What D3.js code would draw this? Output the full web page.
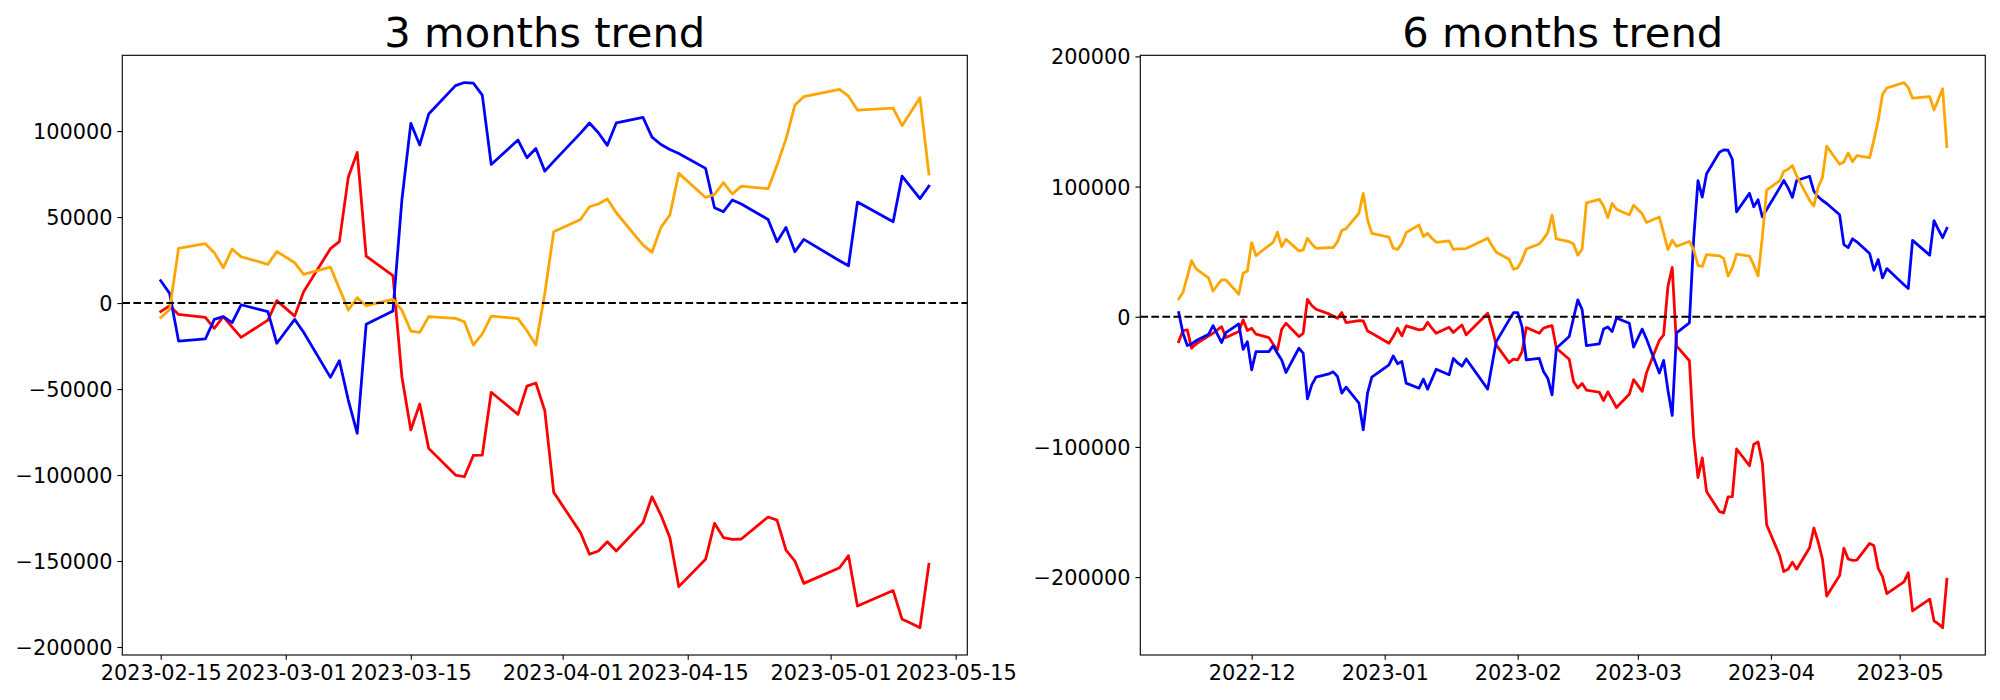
<!DOCTYPE html>
<html><head><meta charset="utf-8">
<script src="https://cdn.jsdelivr.net/npm/d3@7"></script>
<style>body{margin:0;background:#fff}svg{display:block}</style>
</head><body>
<svg id="c" width="2000" height="700"></svg>
<script>
// ---------------- data: 3 months ----------------
const dates3m = ["2023-02-15","2023-02-16","2023-02-17","2023-02-20","2023-02-21","2023-02-22","2023-02-23","2023-02-24","2023-02-27","2023-02-28",
"2023-03-02","2023-03-03","2023-03-06","2023-03-07","2023-03-08","2023-03-09","2023-03-10","2023-03-13","2023-03-14","2023-03-15","2023-03-16","2023-03-17","2023-03-20","2023-03-21","2023-03-22","2023-03-23","2023-03-24","2023-03-27","2023-03-28","2023-03-29","2023-03-30","2023-03-31",
"2023-04-03","2023-04-04","2023-04-05","2023-04-06","2023-04-07","2023-04-10","2023-04-11","2023-04-12","2023-04-13","2023-04-14","2023-04-17","2023-04-18","2023-04-19","2023-04-20","2023-04-21","2023-04-24","2023-04-25","2023-04-26","2023-04-27","2023-04-28",
"2023-05-02","2023-05-03","2023-05-04","2023-05-08","2023-05-09","2023-05-10","2023-05-11","2023-05-12"];
const blue3m = [13000,5600,-22100,-20900,-9500,-7900,-11400,-1000,-5000,-23400,
-9500,-17000,-43200,-33500,-56400,-75800,-12400,-4650,59900,104500,91900,109900,126400,128200,127900,120900,80600,94800,84500,89900,76700,82400,
98800,104700,99000,91700,104700,107900,96500,92200,89300,87000,78300,55400,53100,59900,57600,48600,35700,44000,29800,37000,
24600,21700,58700,47300,73800,67200,60700,68000];
const red3m = [-5000,-1550,-6600,-8300,-14700,-7950,-14000,-20000,-9900,1400,
-7600,6600,31600,35700,73100,87600,27300,15900,-42800,-73800,-58700,-84500,-100000,-101000,-88600,-88400,-51900,-64700,-48300,-46500,-62600,-110100,
-133500,-146100,-144200,-138800,-144200,-127700,-112600,-123300,-136400,-164900,-149000,-128100,-136400,-137400,-137200,-124400,-126200,-143600,-150000,-163000,
-153900,-146900,-176200,-167200,-183900,-186200,-188800,-151900];
const orange3m = [-8500,-3700,31800,34500,29300,20500,31400,26900,22500,30000,
23400,16700,20900,8500,-4100,3100,-1550,2100,-4100,-16300,-17100,-7900,-8900,-10900,-24400,-18000,-7600,-9100,-16100,-24400,5600,41500,
48600,56000,57600,60500,52500,33700,29500,44000,51200,75400,61400,63200,70000,63400,68000,66500,80200,95300,115100,120000,
124200,120300,112200,113400,103100,111200,119400,75000];

// ---------------- data: 6 months ----------------
const dates6m = ["2022-11-14","2022-11-15","2022-11-16","2022-11-17","2022-11-18","2022-11-21","2022-11-22","2022-11-23","2022-11-24","2022-11-25","2022-11-28","2022-11-29","2022-11-30",
"2022-12-01","2022-12-02","2022-12-05","2022-12-06","2022-12-07","2022-12-08","2022-12-09","2022-12-12","2022-12-13","2022-12-14","2022-12-15","2022-12-16","2022-12-19","2022-12-20","2022-12-21","2022-12-22","2022-12-23","2022-12-26","2022-12-27","2022-12-28","2022-12-29",
"2023-01-02","2023-01-03","2023-01-04","2023-01-05","2023-01-06","2023-01-09","2023-01-10","2023-01-11","2023-01-12","2023-01-13","2023-01-16","2023-01-17","2023-01-18","2023-01-19","2023-01-20","2023-01-25","2023-01-26","2023-01-27","2023-01-30","2023-01-31",
"2023-02-01","2023-02-02","2023-02-03","2023-02-06","2023-02-07","2023-02-08","2023-02-09","2023-02-10","2023-02-13","2023-02-14",
"2023-02-15","2023-02-16","2023-02-17","2023-02-20","2023-02-21","2023-02-22","2023-02-23","2023-02-24","2023-02-27","2023-02-28",
"2023-03-02","2023-03-03","2023-03-06","2023-03-07","2023-03-08","2023-03-09","2023-03-10","2023-03-13","2023-03-14","2023-03-15","2023-03-16","2023-03-17","2023-03-20","2023-03-21","2023-03-22","2023-03-23","2023-03-24","2023-03-27","2023-03-28","2023-03-29","2023-03-30","2023-03-31",
"2023-04-03","2023-04-04","2023-04-05","2023-04-06","2023-04-07","2023-04-10","2023-04-11","2023-04-12","2023-04-13","2023-04-14","2023-04-17","2023-04-18","2023-04-19","2023-04-20","2023-04-21","2023-04-24","2023-04-25","2023-04-26","2023-04-27","2023-04-28",
"2023-05-02","2023-05-03","2023-05-04","2023-05-08","2023-05-09","2023-05-10","2023-05-11","2023-05-12"];
const blue6m = [3200,-12700,-22100,-20900,-18500,-13400,-6800,-13400,-19800,-12200,-5500,-25000,-19100,
-40800,-26800,-26800,-22400,-28000,-33200,-42800,-24200,-28000,-63100,-52300,-46400,-43900,-42300,-45900,-58700,-54100,-66400,-86900,-58700,-46400,
-37000,-30100,-36200,-34400,-51000,-54900,-47900,-55600,-47900,-40300,-44600,-32000,-35500,-38000,-32500,-55600,-37000,-19100,-2400,3200,
3200,-7600,-33200,-31900,-42100,-47200,-60000,-24200,-15200,-1000,
13000,5600,-22100,-20900,-9500,-7900,-11400,-1000,-5000,-23400,
-9500,-17000,-43200,-33500,-56400,-75800,-12400,-4650,59900,104500,91900,109900,126400,128200,127900,120900,80600,94800,84500,89900,76700,82400,
98800,104700,99000,91700,104700,107900,96500,92200,89300,87000,78300,55400,53100,59900,57600,48600,35700,44000,29800,37000,
24600,21700,58700,47300,73800,67200,60700,68000];
const red6m = [-19100,-10600,-10100,-24200,-20900,-14700,-12700,-10100,-7600,-16000,-11400,-2400,-10600,
-8800,-13400,-16000,-20900,-25500,-9600,-5000,-15200,-12700,13400,8600,5800,2200,600,-1200,3200,-4500,-2900,-3200,-10900,-12700,
-20400,-15200,-8800,-14700,-7000,-10100,-9600,-4200,-8800,-12700,-8100,-12100,-9100,-6300,-13900,2700,-8800,-21600,-35200,-32600,
-33200,-26800,-8300,-12700,-8800,-7600,-6800,-24200,-32600,-49700,
-54700,-51250,-56300,-58000,-64400,-57650,-63700,-69700,-59600,-48300,
-57300,-43100,-18100,-14000,23400,37900,-22400,-33800,-92500,-123500,-108400,-134200,-149700,-150700,-138300,-138100,-101600,-114400,-98000,-96200,-112300,-159800,
-183200,-195800,-193900,-188500,-193900,-177400,-162300,-173000,-186100,-214600,-198700,-177800,-186100,-187100,-186900,-174100,-175900,-193300,-199700,-212700,
-203600,-196600,-225900,-216900,-233600,-235900,-238900,-201600];
const orange6m = [13700,18800,30800,43100,37000,29600,19800,24200,28300,28300,17300,33400,35200,
57000,47000,54700,57200,64900,53900,59500,50600,51300,60300,55900,52600,53100,53100,57700,66200,67700,79500,94800,74400,64100,
61100,52600,51800,56400,64600,70500,61600,64100,60300,57200,58200,51800,52100,52100,52400,60300,54700,49500,44200,36500,
37500,43600,52100,55900,59800,64600,78200,59800,57700,55900,
47200,52000,87500,90200,85000,76200,87100,82600,78200,85700,
79100,72400,76600,64200,51600,58800,54150,57800,51600,39400,38600,47800,46800,44800,31300,37700,48100,46600,39600,31300,61300,97200,
104300,111700,113300,116200,108200,89400,85200,99700,106900,131100,117100,118900,125700,119100,123700,122200,135900,151000,170800,175700,
179900,176000,167900,169100,158800,166900,175100,130700];

// ---------------- ticks & labels ----------------
const titles = ["3 months trend", "6 months trend"];
const ticksX3m = ["2023-02-15","2023-03-01","2023-03-15","2023-04-01","2023-04-15","2023-05-01","2023-05-15"];
const ticksX6m = ["2022-12-01","2023-01-01","2023-02-01","2023-03-01","2023-04-01","2023-05-01"];
const ticksY3m = [-200000,-150000,-100000,-50000,0,50000,100000];
const ticksY6m = [-200000,-100000,0,100000,200000];

// ---------------- drawing ----------------
const parse = d3.utcParse("%Y-%m-%d");
const FONT = "DejaVu Sans";
const PT = 100/72;
const svg = d3.select("#c");
svg.append("rect").attr("width",2000).attr("height",700).attr("fill","#fff");

function panel(id, box, title, dates, series, xt, xfmt, yt) {
  const ds = dates.map(parse);
  const t0 = ds[0], t1 = ds[ds.length-1];
  const mt = (t1 - t0) * 0.05;
  const x = d3.scaleUtc().domain([new Date(+t0 - mt), new Date(+t1 + mt)]).range([box.x0, box.x1]);
  const all = series.flatMap(s => s.values);
  const lo = d3.min(all), hi = d3.max(all), m = (hi - lo) * 0.05;
  const y = d3.scaleLinear().domain([lo - m, hi + m]).range([box.y1, box.y0]);

  const g = svg.append("g");
  g.append("clipPath").attr("id", id).append("rect")
    .attr("x", box.x0).attr("y", box.y0).attr("width", box.x1 - box.x0).attr("height", box.y1 - box.y0);

  const plot = g.append("g").attr("clip-path", `url(#${id})`);
  series.forEach(s => {
    const pts = s.values.map((v, i) => [ds[i], v]);
    plot.append("path")
      .attr("d", d3.line().x(p => x(p[0])).y(p => y(p[1]))(pts))
      .attr("fill", "none").attr("stroke", s.color)
      .attr("stroke-width", 2*PT).attr("stroke-linejoin", "round").attr("stroke-linecap", "square");
  });
  plot.append("line")
    .attr("x1", box.x0).attr("x2", box.x1).attr("y1", y(0)).attr("y2", y(0))
    .attr("stroke", "#000").attr("stroke-width", 1.5*PT)
    .attr("stroke-dasharray", `${3.7*1.5*PT},${1.6*1.5*PT}`);

  const fmtY = d => d < 0 ? "\u2212" + Math.abs(d) : String(d);
  const ax = g.append("g").attr("transform", `translate(0,${box.y1})`)
    .call(d3.axisBottom(x).tickValues(xt.map(parse)).tickFormat(xfmt)
      .tickSize(3.5*PT).tickPadding(3.5*PT));
  const ay = g.append("g").attr("transform", `translate(${box.x0},0)`)
    .call(d3.axisLeft(y).tickValues(yt).tickFormat(fmtY)
      .tickSize(3.5*PT).tickPadding(3.5*PT));
  [ax, ay].forEach(a => {
    a.select(".domain").remove();
    a.selectAll("line").attr("stroke", "#000").attr("stroke-width", 0.8*PT);
    a.selectAll("text").attr("font-family", FONT).attr("font-size", 15*PT).attr("fill", "#000");
  });
  ay.selectAll("text").attr("dy", "0.36em");

  g.append("rect").attr("x", box.x0).attr("y", box.y0)
    .attr("width", box.x1 - box.x0).attr("height", box.y1 - box.y0)
    .attr("fill", "none").attr("stroke", "#000").attr("stroke-width", 0.8*PT);

  g.append("text").attr("x", (box.x0 + box.x1)/2).attr("y", box.y0 - 6*PT)
    .attr("text-anchor", "middle").attr("font-family", FONT).attr("font-size", 30*PT)
    .attr("fill", "#000").text(title);
}

panel("clipL", {x0:122.3, x1:967.3, y0:55.3, y1:655}, titles[0], dates3m,
  [{values:red3m, color:"#ff0000"}, {values:blue3m, color:"#0000ff"}, {values:orange3m, color:"#ffa500"}],
  ticksX3m, d3.utcFormat("%Y-%m-%d"), ticksY3m);
panel("clipR", {x0:1140.3, x1:1985.3, y0:55.3, y1:655}, titles[1], dates6m,
  [{values:red6m, color:"#ff0000"}, {values:blue6m, color:"#0000ff"}, {values:orange6m, color:"#ffa500"}],
  ticksX6m, d3.utcFormat("%Y-%m"), ticksY6m);
</script>
</body></html>
